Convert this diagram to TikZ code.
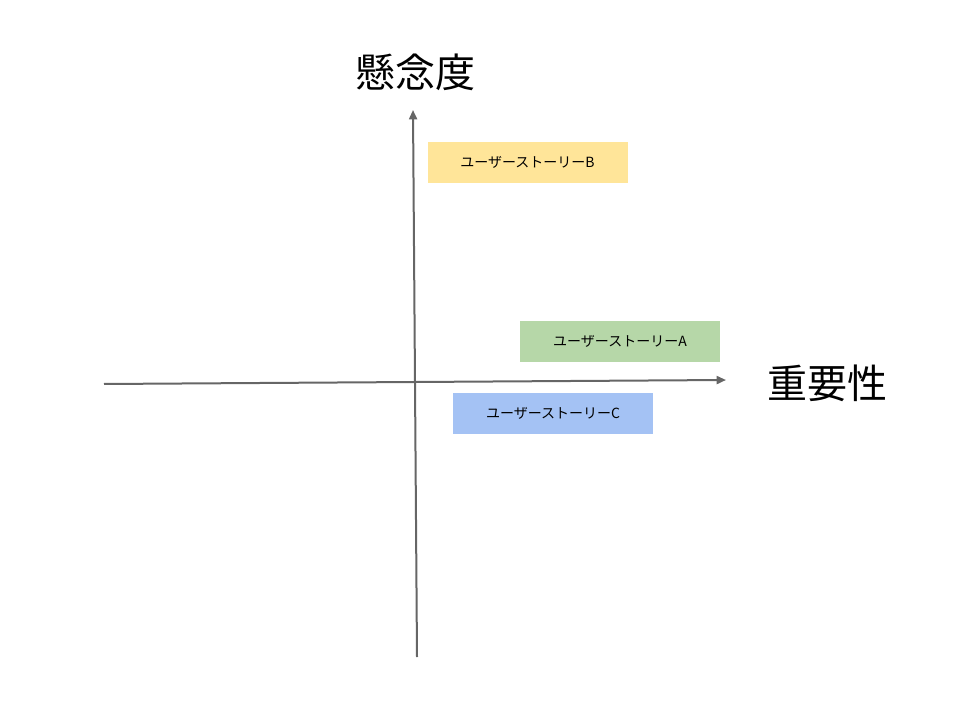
\documentclass[tikz,border=0pt]{standalone}
\usepackage{fontspec}
\setmainfont{Noto Sans CJK JP}
\usetikzlibrary{arrows.meta}
\definecolor{ax}{HTML}{666666}
\definecolor{cy}{HTML}{FFE599}
\definecolor{cg}{HTML}{B6D7A8}
\definecolor{cb}{HTML}{A4C2F4}
\begin{document}
\begin{tikzpicture}[x=0.75pt,y=-0.75pt,
  axis/.style={draw=ax,line width=1.5pt,-{Triangle[length=7pt,width=6pt]}},
  story/.style={minimum width=150pt,minimum height=30.75pt,inner sep=0pt,font=\fontsize{10.5pt}{12pt}\selectfont},
  big/.style={font=\fontsize{30pt}{34pt}\selectfont}]
\useasboundingbox (0,0) rectangle (960,720);
\coordinate (vs) at (417,657); \coordinate (ve) at (413,110);
\coordinate (hs) at (104,384); \coordinate (he) at (726,380);
\draw[axis] (vs) -- (ve);
\draw[axis] (hs) -- (he);
\node[story,fill=cy] (b) at (527.5,162.5) {ユーザーストーリーB};
\node[story,fill=cg] (a) at (620,341.5) {ユーザーストーリーA};
\node[story,fill=cb] (c) at (553,413.5) {ユーザーストーリーC};
\node[big] (y) at (415,72) {懸念度};
\node[big] (x) at (827,383) {重要性};
\end{tikzpicture}
\end{document}
